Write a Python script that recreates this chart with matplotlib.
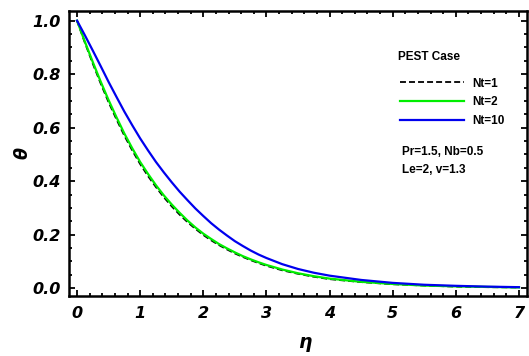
import matplotlib
matplotlib.use("Agg")
import matplotlib.pyplot as plt
from matplotlib.ticker import MultipleLocator

eta = [0, 0.125, 0.25, 0.375, 0.5, 0.625, 0.75, 0.875, 1.0, 1.125, 1.25, 1.375,
       1.5, 1.625, 1.75, 1.875, 2.0, 2.125, 2.25, 2.375, 2.5, 2.625, 2.75, 2.875,
       3.0, 3.25, 3.5, 3.75, 4.0, 4.5, 5.0, 5.5, 6.0, 6.5, 7.0]
theta_nt1 = [1.0, 0.917, 0.839, 0.765, 0.695, 0.631, 0.570, 0.515, 0.464, 0.419,
             0.378, 0.340, 0.306, 0.275, 0.247, 0.222, 0.199, 0.179, 0.161, 0.145,
             0.130, 0.117, 0.105, 0.094, 0.084, 0.067, 0.054, 0.043, 0.034, 0.023,
             0.015, 0.010, 0.006, 0.004, 0.003]
theta_nt2 = [1.0, 0.921, 0.845, 0.772, 0.703, 0.639, 0.578, 0.523, 0.472, 0.427,
             0.385, 0.347, 0.313, 0.282, 0.253, 0.227, 0.204, 0.184, 0.165, 0.149,
             0.134, 0.120, 0.108, 0.097, 0.087, 0.070, 0.056, 0.045, 0.036, 0.024,
             0.016, 0.010, 0.007, 0.005, 0.003]
theta_nt10 = [1.0, 0.945, 0.888, 0.830, 0.771, 0.715, 0.660, 0.609, 0.560, 0.515,
              0.472, 0.433, 0.396, 0.361, 0.329, 0.298, 0.270, 0.243, 0.219, 0.197,
              0.176, 0.158, 0.141, 0.126, 0.113, 0.090, 0.072, 0.058, 0.047, 0.031,
              0.020, 0.013, 0.009, 0.006, 0.004]
labels = ["Nt=1", "Nt=2", "Nt=10"]
xticks = [0, 1, 2, 3, 4, 5, 6, 7]
yticks = [0.0, 0.2, 0.4, 0.6, 0.8, 1.0]

plt.rcParams['font.family'] = ['Liberation Sans', 'DejaVu Sans']

fig = plt.figure(figsize=(5.29, 3.56), dpi=100)
ax = fig.add_axes([69/529, 1 - 296/356, (527-69)/529, (296-11)/356])

dash = (0, (3.3, 1.7))
l2, = ax.plot(eta, theta_nt2, color='#00ee00', lw=1.6, zorder=2)
l1, = ax.plot(eta, theta_nt1, color='black', lw=1.3, ls=dash, zorder=1.9)
l3, = ax.plot(eta, theta_nt10, color='#0000ee', lw=1.6, zorder=2.1)

ax.set_xlim(-0.127, 7.127)
ax.set_ylim(-0.029, 1.036)
ax.set_xticks(xticks)
ax.set_yticks(yticks)
ax.set_xticklabels([str(t) for t in xticks])
ax.set_yticklabels([f"{t:.1f}" for t in yticks])
ax.xaxis.set_minor_locator(MultipleLocator(0.2))
ax.yaxis.set_minor_locator(MultipleLocator(0.05))
ax.tick_params(which='both', direction='in', top=True, right=True, width=1.3,
               color='black')
ax.tick_params(which='major', length=4.5, pad=5)
ax.tick_params(axis='x', which='major', pad=7)
ax.tick_params(axis='y', which='major', pad=6)
ax.tick_params(which='minor', length=2.5)
for lab in ax.get_xticklabels() + ax.get_yticklabels():
    lab.set_fontfamily('DejaVu Sans')
    lab.set_fontsize(11.5)
    lab.set_fontweight('bold')
    lab.set_fontstyle('italic')
for s in ax.spines.values():
    s.set_linewidth(1.8)

fig.text(22/529, 1 - 153/356, "θ", rotation=90, fontsize=12.5, fontweight='bold',
         fontstyle='italic', ha='center', va='center', family='DejaVu Sans')
fig.text(305/529, 1 - 342/356, "η", fontsize=13.5, fontweight='bold',
         fontstyle='italic', ha='center', va='center', family='DejaVu Sans')

fs = 8.5
leg = ax.legend([l1, l2, l3], labels, loc='upper left',
                bbox_to_anchor=((400 - 69) / 458, 1 - (77.5 - 11) / 285),
                frameon=False, handlelength=64 / (fs * 100 / 72), handletextpad=0.7,
                labelspacing=0.56, borderaxespad=0, borderpad=0,
                prop={'size': fs, 'weight': 'bold'})
ax.text((398 - 69) / 458, 1 - (57 - 11) / 285, "PEST Case", transform=ax.transAxes,
        fontsize=fs, fontweight='bold', ha='left', va='center')
ax.text((402 - 69) / 458, 1 - (152 - 11) / 285, "Pr=1.5, Nb=0.5",
        transform=ax.transAxes, fontsize=fs, fontweight='bold', ha='left', va='center')
ax.text((402 - 69) / 458, 1 - (170 - 11) / 285, "Le=2, v=1.3",
        transform=ax.transAxes, fontsize=fs, fontweight='bold', ha='left', va='center')

fig.savefig("out.png", dpi=100)
